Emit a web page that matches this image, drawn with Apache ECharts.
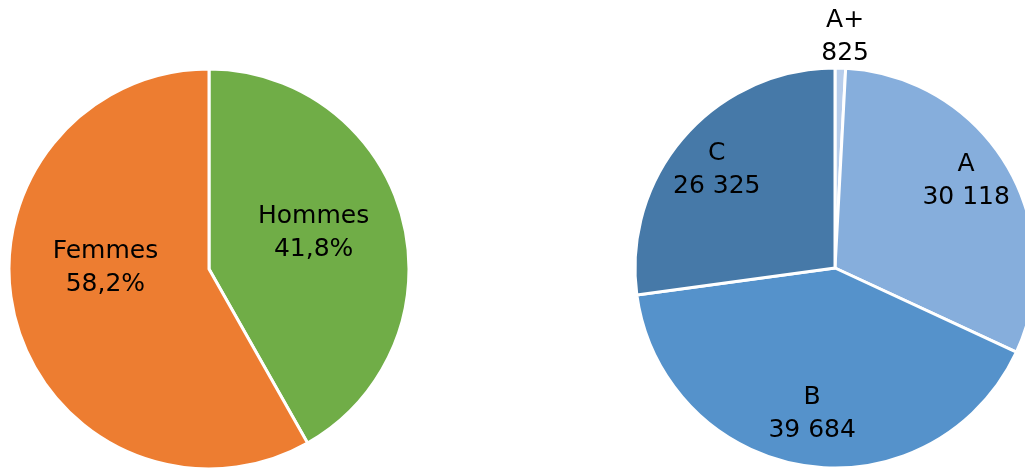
<!DOCTYPE html>
<html><head><meta charset="utf-8">
<script src="https://cdn.jsdelivr.net/npm/echarts@6/dist/echarts.min.js"></script>
<style>html,body{margin:0;padding:0;background:#fff}#c{width:1025px;height:471px}</style>
</head><body><div id="c"></div>
<script>
const genderNames = ['Hommes', 'Femmes'];
const genderValues = [41.8, 58.2];
const genderLabels = ['41,8%', '58,2%'];
const classNames = ['A+', 'A', 'B', 'C'];
const classValues = [825, 30118, 39684, 26325];
const classLabels = ['825', '30 118', '39 684', '26 325'];

const genderColors = ['#70AD47', '#ED7D31'];
const classColors = ['#B7CDEB', '#86AEDC', '#5592CB', '#4679A8'];
const genderOffsets = [[5, -10], [-4, -27]];
const classOffsets = [[6, -78], [0, -8], [0, -5], [-3, 3]];

const font = 'DejaVu Sans';
const lbl = {fontFamily: font, fontSize: 25, lineHeight: 33, color: '#000', align: 'center'};

const chart = echarts.init(document.getElementById('c'));
chart.setOption({
  animation: false,
  series: [
    {
      type: 'pie', center: [209, 269], radius: 200, startAngle: 90, clockwise: true,
      itemStyle: {borderColor: '#fff', borderWidth: 3},
      label: Object.assign({position: 'inside', formatter: p => p.name + '\n' + genderLabels[p.dataIndex]}, lbl),
      labelLine: {show: false},
      data: genderNames.map((n, i) => ({name: n, value: genderValues[i], itemStyle: {color: genderColors[i]}, label: {offset: genderOffsets[i]}}))
    },
    {
      type: 'pie', center: [835, 268], radius: 200, startAngle: 90, clockwise: true,
      itemStyle: {borderColor: '#fff', borderWidth: 3},
      label: {show: false}, labelLine: {show: false},
      data: classNames.map((n, i) => ({name: n, value: classValues[i], itemStyle: {color: classColors[i]}}))
    },
    {
      type: 'pie', center: [835, 268], radius: [100, 200], startAngle: 90, clockwise: true, silent: true,
      itemStyle: {color: 'rgba(0,0,0,0)', borderWidth: 0},
      label: Object.assign({position: 'inside', formatter: p => p.name + '\n' + classLabels[p.dataIndex]}, lbl),
      labelLine: {show: false},
      data: classNames.map((n, i) => ({name: n, value: classValues[i], label: {offset: classOffsets[i]}}))
    }
  ]
});
</script></body></html>
